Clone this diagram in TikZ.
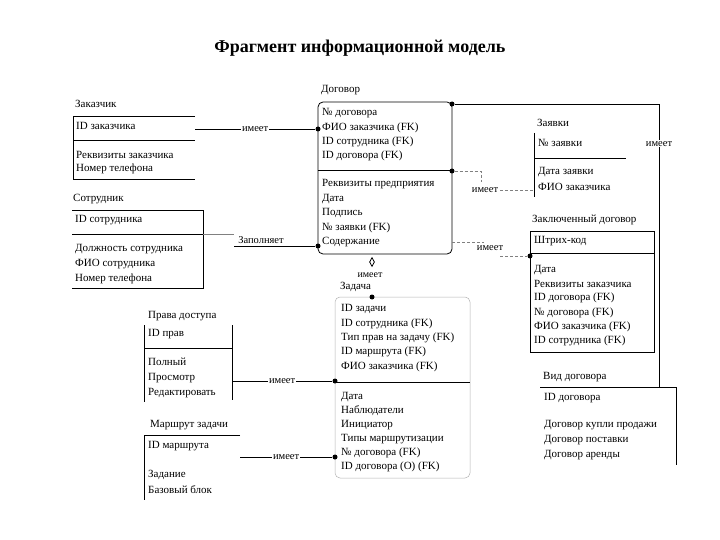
\documentclass[tikz,border=0pt]{standalone}
\usepackage{fontspec}
\setmainfont{Liberation Serif}
\usetikzlibrary{shapes.geometric}
\begin{document}
\begin{tikzpicture}[x=1pt,y=-1pt,
  t/.style={anchor=west,inner sep=0,font=\fontsize{11}{13}\selectfont},
  ln/.style={line width=0.8pt},
  dl/.style={line width=0.8pt,densely dashed,gray},
  lbl/.style={fill=white,inner sep=1pt,font=\fontsize{10.5}{12}\selectfont},
  dot/.style={circle,fill,inner sep=0,minimum size=5pt}]
\useasboundingbox (0,0) rectangle (720,540);
\node[font=\rmfamily\bfseries\fontsize{18}{21}\selectfont] (title) at (360,48) {Фрагмент информационной модель};
% Заказчик
\node[t] (zk) at (75,104) {Заказчик};
\draw[ln] (195,116) -- (73,116) -- (73,179) -- (195,179);
\draw[ln] (73,140) -- (195,140);
\node[t] (zk1) at (76,126) {ID заказчика};
\node[t] (zk2) at (76,155) {Реквизиты заказчика};
\node[t] (zk3) at (76,169) {Номер телефона};
% Сотрудник
\node[t] (st) at (73,199) {Сотрудник};
\draw[ln] (72,210) -- (203,210) -- (203,288) -- (72,288);
\draw[ln] (72,234) -- (203,234);
\node[t] (st1) at (75,220) {ID сотрудника};
\node[t] (st2) at (75,249) {Должность сотрудника};
\node[t] (st3) at (75,264) {ФИО сотрудника};
\node[t] (st4) at (75,279) {Номер телефона};
% Договор
\node[t] (dg) at (321,90) {Договор};
\draw[ln,rounded corners=5pt] (318,102) rectangle (452,254);
\draw[ln] (318,170) -- (452,170);
\foreach \s/\y in {№ договора/113,ФИО заказчика (FK)/128,ID сотрудника (FK)/142,ID договора (FK)/156,Реквизиты предприятия/184,Дата/199,Подпись/213,№ заявки (FK)/228,Содержание/242}
  \node[t] at (322,\y) {\s};
% Заявки
\node[t] (zv) at (537,123) {Заявки};
\draw[ln] (534,133) -- (534,197);
\draw[ln] (534,158) -- (626,158);
\node[t] (zv1) at (538,143) {№ заявки};
\node[t] (zv2) at (538,172) {Дата заявки};
\node[t] (zv3) at (538,187) {ФИО заказчика};
% Заключенный договор
\node[t] (zd) at (532,220) {Заключенный договор};
\draw[ln] (530,231) rectangle (654,352);
\draw[ln] (530,253) -- (654,253);
\foreach \s/\y in {Штрих-код/241,Дата/270,Реквизиты заказчика/284,ID договора (FK)/298,№ договора (FK)/313,ФИО заказчика (FK)/327,ID сотрудника (FK)/341}
  \node[t] at (534,\y) {\s};
% Вид договора
\node[t] (vd) at (543,377) {Вид договора};
\draw[ln] (540,387) -- (676,387) -- (676,465);
\foreach \s/\y in {ID договора/398,Договор купли продажи/425,Договор поставки/440,Договор аренды/455}
  \node[t] at (544,\y) {\s};
% Задача
\node[t] (zc) at (340,287) {Задача};
\draw[line width=0.5pt,gray!60,rounded corners=5pt] (335,297) rectangle (470,478);
\draw[ln] (335,382) -- (470,382);
\foreach \s/\y in {ID задачи/309,ID сотрудника (FK)/324,Тип прав на задачу (FK)/338,ID маршрута (FK)/352,ФИО заказчика (FK)/367,Дата/397,Наблюдатели/411,Инициатор/425,Типы маршрутизации/439,№ договора (FK)/453,ID договора (O) (FK)/467}
  \node[t] at (341,\y) {\s};
% Права доступа
\node[t] (pd) at (148,316) {Права доступа};
\draw[ln] (144,325) -- (144,402);
\draw[ln] (232,325) -- (232,400);
\draw[ln] (144,348) -- (232,348);
\node[t] (pd1) at (148,334) {ID прав};
\node[t] (pd2) at (148,362) {Полный};
\node[t] (pd3) at (148,378) {Просмотр};
\node[t] (pd4) at (148,393) {Редактировать};
% Маршрут задачи
\node[t] (mz) at (150,425) {Маршрут задачи};
\draw[ln] (240,435) -- (144,435) -- (144,500);
\node[t] (mz1) at (148,446) {ID маршрута};
\node[t] (mz2) at (148,475) {Задание};
\node[t] (mz3) at (148,490) {Базовый блок};
% connectors
\node[dot] (d1) at (318,129) {};
\coordinate (c1) at (195,129);
\draw[ln] (c1) -- node[lbl]{имеет} (d1);
\node[dot] (d2) at (318,246) {};
\coordinate (c2a) at (203,234); \coordinate (c2b) at (234,234); \coordinate (c2c) at (234,246);
\draw[line width=0.6pt,gray] (c2a) -- (c2b);
\draw[ln] (c2c) -- (d2);
\node[lbl] (l2) at (261,240) {Заполняет};
\node[dot] (d3) at (452,104) {};
\coordinate (c3a) at (659,104); \coordinate (c3b) at (659,387);
\draw[ln] (d3) -- (c3a) -- node[lbl,pos=0.14]{имеет} (c3b);
\node[dot] (d4) at (452,171) {};
\coordinate (c4a) at (481,171); \coordinate (c4b) at (481,182); \coordinate (c4c) at (500,190); \coordinate (c4d) at (534,190);
\draw[dl] (d4) -- (c4a) -- (c4b);
\draw[dl] (c4c) -- (c4d);
\node[lbl] (l4) at (485,190) {имеет};
\node[dot] (d5) at (530,256) {};
\coordinate (c5a) at (452,242); \coordinate (c5b) at (484,242); \coordinate (c5c) at (500,256);
\draw[dl] (c5a) -- (c5b);
\draw[dl] (c5c) -- (d5);
\node[lbl] (l5) at (490,248) {имеет};
\node[diamond,draw,ln,inner sep=0,minimum width=5pt,minimum height=9pt] (dm) at (372,262) {};
\node[font=\fontsize{10}{11}\selectfont,inner sep=0] (l6) at (370,275) {имеет};
\node[dot] (d6) at (372,297) {};
\node[dot] (d7) at (335,381) {};
\coordinate (c7) at (232,381);
\draw[ln] (c7) -- node[lbl]{имеет} (d7);
\node[dot] (d8) at (335,457) {};
\coordinate (c8) at (240,457);
\draw[ln] (c8) -- node[lbl]{имеет} (d8);
\end{tikzpicture}
\end{document}
